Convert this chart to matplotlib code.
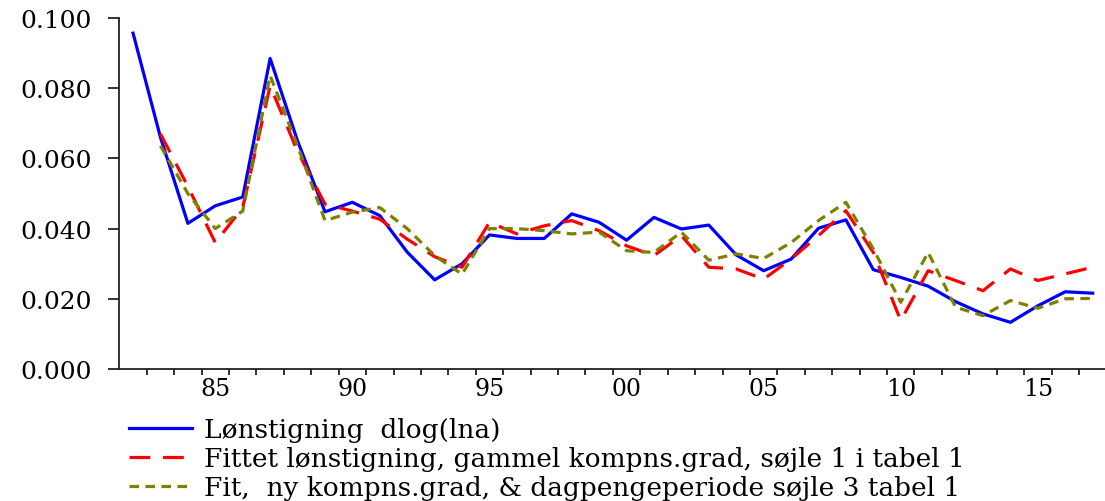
import numpy as np
import matplotlib.pyplot as plt
from matplotlib.ticker import FormatStrFormatter

years = np.arange(1982, 2018)
fit_years = np.arange(1983, 2018)

loenstigning = [0.0957, 0.066, 0.0415, 0.0465, 0.049, 0.0885, 0.065, 0.0448, 0.0475,
                0.0437, 0.0333, 0.0254, 0.030, 0.0382, 0.0372, 0.0372, 0.0442, 0.0418,
                0.0367, 0.0432, 0.0399, 0.041, 0.0325, 0.028, 0.0313, 0.0401, 0.0425,
                0.0283, 0.0261, 0.0236, 0.0192, 0.0157, 0.0133, 0.018, 0.022, 0.0216]

fit_gammel = [0.067, 0.052, 0.036, 0.046, 0.0807, 0.062, 0.047, 0.045, 0.0427,
              0.037, 0.032, 0.029, 0.0418, 0.0385, 0.0408, 0.0423, 0.0394, 0.0351,
              0.0323, 0.038, 0.029, 0.0285, 0.0256, 0.0313, 0.038, 0.0451, 0.0332,
              0.0138, 0.028, 0.0252, 0.0223, 0.0285, 0.0252, 0.0271, 0.029]

fit_ny = [0.0636, 0.050, 0.040, 0.045, 0.0836, 0.0636, 0.0423, 0.0447, 0.046,
          0.040, 0.0323, 0.027, 0.040, 0.040, 0.0394, 0.0385, 0.039, 0.0337,
          0.0332, 0.039, 0.031, 0.0328, 0.0315, 0.036, 0.0423, 0.0475, 0.0342,
          0.019, 0.0332, 0.0176, 0.0152, 0.0195, 0.0173, 0.020, 0.0201]

labels = ['Lønstigning  dlog(lna)',
          'Fittet lønstigning, gammel kompns.grad, søjle 1 i tabel 1',
          'Fit,  ny kompns.grad, & dagpengeperiode søjle 3 tabel 1']

label_years = [1985, 1990, 1995, 2000, 2005, 2010, 2015]

plt.rcParams['font.family'] = ['DejaVu Serif']
fig = plt.figure(figsize=(11.05, 5.02), dpi=100)
ax = fig.add_axes([0.108, 0.263, 0.892, 0.699])

ax.plot(years, loenstigning, color='#0000ff', lw=2.3, label=labels[0])
ax.plot(fit_years, fit_gammel, color='#ff0000', lw=2.3, dashes=(6.5, 4), label=labels[1])
ax.plot(fit_years, fit_ny, color='#808000', lw=2.3, dashes=(3, 2), label=labels[2])

ax.set_xlim(1981.5, 2017.45)
ax.set_ylim(0, 0.1)

ax.set_xticks(np.arange(1982.5, 2017, 1))
ax.set_xticklabels([])
ax.set_xticks(label_years, minor=True)
ax.set_xticklabels(['%02d' % (y % 100) for y in label_years], minor=True)
ax.tick_params(axis='x', which='major', direction='out', length=4, width=1.3, color='#222222')
ax.tick_params(axis='x', which='minor', length=0, pad=6, labelsize=17)

ax.set_yticks([0, 0.02, 0.04, 0.06, 0.08, 0.1])
ax.yaxis.set_major_formatter(FormatStrFormatter('%.3f'))
ax.tick_params(axis='y', direction='out', length=8, width=1.3, pad=12, labelsize=18,
               color='#222222')

for s in ['top', 'right']:
    ax.spines[s].set_visible(False)
for s in ['left', 'bottom']:
    ax.spines[s].set_linewidth(1.3)
    ax.spines[s].set_color('#222222')

fig.legend(loc='upper left', bbox_to_anchor=(129 / 1105, 1 - 418 / 502), frameon=False,
           fontsize=19, handlelength=2.4, handletextpad=0.45, labelspacing=0.15,
           borderpad=0, borderaxespad=0)

fig.savefig('out.png', dpi=100)
plt.close(fig)
